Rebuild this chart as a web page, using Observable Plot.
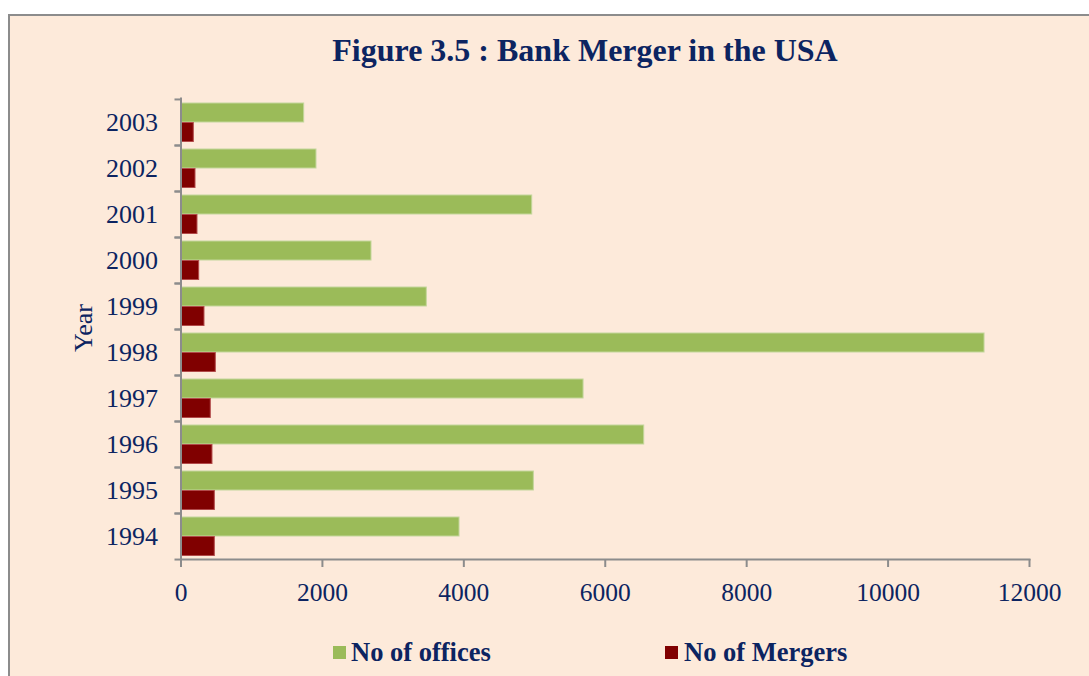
<!DOCTYPE html>
<html>
<head>
<meta charset="utf-8">
<script src="https://cdn.jsdelivr.net/npm/d3@7"></script>
<script src="https://cdn.jsdelivr.net/npm/@observablehq/plot@0.6"></script>
<style>
  html, body { margin: 0; padding: 0; background: #ffffff; }
  #wrap { position: relative; width: 1089px; height: 676px; overflow: hidden; background: #ffffff; }
  #panel { position: absolute; left: 8px; top: 14px; width: 1200px; height: 800px;
           background: #FDEADA; border-top: 2px solid #8c8c8c; border-left: 2px solid #8c8c8c; }
  #chart { position: absolute; left: 0; top: 0; }
  .txt { position: absolute; font-family: "Liberation Serif", "Times New Roman", serif; color: #0c2461; line-height: 1; white-space: nowrap; }
  #title { left: 585px; top: 34px; transform: translateX(-50%); font-size: 32px; font-weight: bold; }
  #ylabel { left: 84px; top: 328px; font-size: 26px; transform: translate(-50%, -50%) rotate(-90deg); }
  .leg { position: absolute; top: 639px; font-size: 26.5px; font-weight: bold; font-family: "Liberation Serif", "Times New Roman", serif; color: #0c2461; line-height: 1; white-space: nowrap; }
  .sw { position: absolute; top: 646px; width: 13px; height: 13px; }
</style>
</head>
<body>
<div id="wrap">
  <div id="panel"></div>
  <div id="chart"></div>
  <div id="title" class="txt"></div>
  <div id="ylabel" class="txt"></div>
  <div id="legend"></div>
</div>
<script>
const titleText = "Figure 3.5 : Bank Merger in the USA";
const yLabel = "Year";
const years = ["1994","1995","1996","1997","1998","1999","2000","2001","2002","2003"];
const offices = [3939, 4990, 6551, 5693, 11364, 3476, 2694, 4967, 1916, 1742];
const mergers = [478, 478, 445, 421, 492, 332, 257, 233, 205, 181];
const xTicks = [0, 2000, 4000, 6000, 8000, 10000, 12000];
const seriesNames = ["No of offices", "No of Mergers"];
const seriesColors = ["#9BBB59", "#800000"];

const navy = "#0c2461";
const gray = "#8c8c8c";

const data = years.map((y, i) => ({year: y, offices: offices[i], mergers: mergers[i]}));

const W = 1089, H = 676, mTop = 98, mBottom = 117;
const bw = (H - mTop - mBottom) / years.length;

const chart = Plot.plot({
  width: W,
  height: H,
  marginTop: mTop,
  marginBottom: mBottom,
  marginLeft: 180.5,
  marginRight: 60,
  style: {background: "transparent", fontFamily: "'Liberation Serif', 'Times New Roman', serif", fontSize: "25.5px", overflow: "visible"},
  x: {domain: [0, 12000], label: null},
  y: {domain: years.slice().reverse(), padding: 0, label: null},
  marks: [
    Plot.barX(data, {x: "offices", y: "year", fill: seriesColors[0], stroke: "#c3d69b", strokeWidth: 1, insetTop: 4, insetBottom: 23}),
    Plot.barX(data, {x: "mergers", y: "year", fill: seriesColors[1], stroke: "#b24a4a", strokeWidth: 1, insetTop: 23.5, insetBottom: 3.5}),
    Plot.frame({anchor: "left", stroke: gray, strokeWidth: 2}),
    Plot.frame({anchor: "bottom", stroke: gray, strokeWidth: 2}),
    Plot.axisY({tickSize: 6, dy: -bw / 2, stroke: gray, strokeWidth: 2, tickFormat: () => "", label: null}),
    Plot.axisY({tickSize: 6, dy: bw / 2, stroke: gray, strokeWidth: 2, tickFormat: () => "", label: null}),
    Plot.axisY({tickSize: 0, tickPadding: 23, fill: navy, fontSize: 26, label: null}),
    Plot.axisX({ticks: xTicks, tickSize: 8, tickPadding: 15, stroke: gray, strokeWidth: 2, fill: navy, tickFormat: d3.format("d"), label: null})
  ]
});
document.getElementById("chart").appendChild(chart);
document.getElementById("title").textContent = titleText;
document.getElementById("ylabel").textContent = yLabel;

const legendPos = [{sw: 333, tx: 351}, {sw: 665, tx: 684}];
const legend = document.getElementById("legend");
seriesNames.forEach((name, i) => {
  const s = document.createElement("div");
  s.className = "sw";
  s.style.left = legendPos[i].sw + "px";
  s.style.background = seriesColors[i];
  legend.appendChild(s);
  const t = document.createElement("div");
  t.className = "leg";
  t.style.left = legendPos[i].tx + "px";
  t.textContent = name;
  legend.appendChild(t);
});
</script>
</body>
</html>
